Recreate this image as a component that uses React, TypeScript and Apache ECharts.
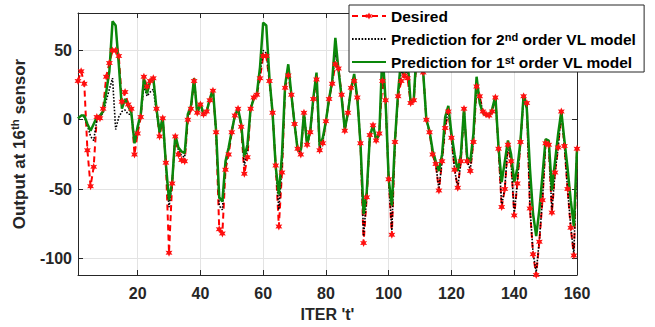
import React, { useEffect, useRef } from 'react';
import * as echarts from 'echarts';

const iterations: number[] = Array.from({ length: 160 }, (_, i) => i + 1);

const desired: number[] = [
  28, 35, 26, -22, -48, -34, 2, 1, 8, 31,
  41, 50, 50, 46, 13, 20, 11, 8, -25, -10,
  2, 31, 24, 28, 30, 8, -12, 1, -31, -96,
  -46, -12, -25, -29, -30, 0, 8, 28, 5, 11,
  4, 6, 14, 21, -9, -79, -82, -36, -25, -9,
  3, 8, -5, -39, -27, 8, 16, 18, 30, 46,
  46, 28, 5, -33, -77, -38, 23, 32, 18, -3,
  -21, -25, 5, -18, -9, 15, 29, -22, -17, -1,
  15, 26, 40, 37, 18, -8, 5, 23, 28, 16,
  -17, -89, -56, -11, -4, -15, -10, 28, 14, -43,
  -83, -16, 17, 28, 32, 30, 12, 14, 48, 45,
  34, 0, -9, -25, -32, -51, -30, -6, 6, -13,
  -36, -49, -30, 8, -30, -37, -16, 24, 17, 6,
  4, 3, 6, 16, -21, -63, -50, -18, -30, -69,
  -46, -16, 17, 12, -64, -97, -112, -88, -58, -17,
  -18, -67, -38, -20, 6, -19, -50, -78, -98, -21,
];

const pred2nd: number[] = [
  1, 3, 2, -4, -12, -15, 0, 2, 5, 14,
  22, 30, -7, 2, 6, 7, 4, 4, -15, -6,
  3, 24, 17, 20, 22, 6, -9, 2, -32, -63,
  -46, -11, -22, -26, -27, 2, 9, 29, 5, 11,
  4, 6, 15, 21, -8, -62, -65, -33, -22, -8,
  3, 8, -4, -33, -22, 8, 16, 18, 33, 50,
  48, 29, 5, -33, -65, -33, 24, 36, 18, -3,
  -21, -24, 5, -18, -9, 15, 31, -21, -16, -1,
  15, 27, 48, 37, 17, -8, 5, 23, 30, 16,
  -17, -84, -55, -11, -4, -15, -10, 40, 14, -43,
  -80, -16, 18, 35, 32, 36, 12, 14, 50, 46,
  34, 0, -9, -24, -32, -50, -30, -5, 7, -13,
  -36, -49, -30, 8, -30, -36, -15, 25, 16, 6,
  4, 3, 6, 16, -21, -62, -49, -18, -30, -68,
  -45, -16, 17, 12, -63, -96, -110, -87, -57, -17,
  -18, -66, -38, -20, 6, -19, -50, -77, -97, -21,
];

const pred1st: number[] = [
  1, 3, 3, -3, -8, -3, 2, 3, 6, 20,
  35, 71, 68, 40, 8, 15, 10, 5, -17, -5,
  4, 30, 19, 28, 30, 8, -9, 2, -32, -58,
  -45, -11, -20, -23, -24, 4, 10, 30, 4, 12,
  4, 6, 15, 22, -8, -56, -59, -30, -20, -8,
  3, 8, -3, -27, -18, 8, 15, 19, 38, 70,
  68, 30, 5, -34, -54, -25, 25, 40, 18, -3,
  -22, -22, 5, -18, -8, 16, 34, -19, -13, -1,
  15, 28, 59, 36, 16, -7, 5, 22, 33, 16,
  -17, -68, -52, -12, -4, -14, -11, 50, 14, -43,
  -62, -15, 20, 45, 33, 44, 12, 15, 55, 48,
  34, 0, -8, -22, -30, -37, -25, 2, 10, -10,
  -25, -37, -25, 8, -27, -30, -10, 31, 12, 5,
  3, 3, 8, 17, -20, -45, -30, -15, -25, -45,
  -35, -15, 18, 8, -35, -68, -84, -65, -40, -14,
  -15, -51, -30, -10, 6, -15, -35, -58, -77, -21,
];

const xTicks: number[] = [20, 40, 60, 80, 100, 120, 140, 160];
const yTicks: number[] = [-100, -50, 0, 50];

const seriesNames = [
  'Desired',
  'Prediction for 2nd order VL model',
  'Prediction for 1st order VL model',
];
const legendLabels: Record<string, string> = {
  'Desired': 'Desired',
  'Prediction for 2nd order VL model': 'Prediction for 2{sup|nd} order VL model',
  'Prediction for 1st order VL model': 'Prediction for 1{sup|st} order VL model',
};

const FONT = "'Liberation Sans', Arial, Helvetica, sans-serif";
const AXIS_COLOR = '#262626';
const GRID_COLOR = '#e3e3e3';
const STAR =
  'path://M0,-1L0.25,-0.433L0.866,-0.5L0.5,0L0.866,0.5L0.25,0.433L0,1L-0.25,0.433L-0.866,0.5L-0.5,0L-0.866,-0.5L-0.25,-0.433Z';

const pairs = (ys: number[]) => ys.map((v, i) => [iterations[i], v]);

export default function App() {
  const ref = useRef<HTMLDivElement>(null);

  useEffect(() => {
    if (!ref.current) return;
    const chart = echarts.init(ref.current, undefined, { renderer: 'svg' });
    const axisLabelStyle = {
      fontSize: 16,
      fontWeight: 'bold' as const,
      color: AXIS_COLOR,
      fontFamily: FONT,
    };
    chart.setOption({
      animation: false,
      backgroundColor: '#ffffff',
      grid: { left: 78, top: 13, width: 499, height: 266, containLabel: false },
      legend: {
        orient: 'vertical',
        left: 349,
        top: 5,
        z: 20,
        zlevel: 0,
        data: seriesNames,
        formatter: (name: string) => legendLabels[name] || name,
        backgroundColor: '#ffffff',
        borderColor: AXIS_COLOR,
        borderWidth: 1,
        borderRadius: 0,
        padding: [3, 8, 2, 2],
        itemWidth: 34,
        itemHeight: 9,
        itemGap: 7,
        itemTextGap: 3,
        textStyle: {
          fontSize: 15.5,
          fontWeight: 'bold',
          color: '#000000',
          fontFamily: FONT,
          lineHeight: 16,
          rich: {
            sup: {
              fontSize: 11,
              fontWeight: 'bold',
              color: '#000000',
              fontFamily: FONT,
              verticalAlign: 'top',
              lineHeight: 11,
            },
          },
        },
      },
      xAxis: [
        {
          type: 'value',
          min: 1,
          max: 160,
          position: 'bottom',
          axisLine: { show: true, onZero: false, lineStyle: { color: AXIS_COLOR, width: 1 } },
          axisTick: { show: true, inside: true, length: 5, customValues: xTicks, lineStyle: { color: AXIS_COLOR } },
          axisLabel: { show: true, customValues: xTicks, margin: 10, ...axisLabelStyle },
          splitLine: { show: true, lineStyle: { color: GRID_COLOR, width: 1 } },
          name: "ITER 't'",
          nameLocation: 'middle',
          nameGap: 31,
          nameTextStyle: { fontSize: 16, fontWeight: 'bold', color: AXIS_COLOR, fontFamily: FONT },
        },
        {
          type: 'value',
          min: 1,
          max: 160,
          position: 'top',
          axisLine: { show: true, onZero: false, lineStyle: { color: AXIS_COLOR, width: 1 } },
          axisTick: { show: true, inside: true, length: 5, customValues: xTicks, lineStyle: { color: AXIS_COLOR } },
          axisLabel: { show: false },
          splitLine: { show: false },
        },
      ],
      yAxis: [
        {
          type: 'value',
          min: -112,
          max: 77,
          position: 'left',
          axisLine: { show: true, onZero: false, lineStyle: { color: AXIS_COLOR, width: 1 } },
          axisTick: { show: true, inside: true, length: 5, customValues: yTicks, lineStyle: { color: AXIS_COLOR } },
          axisLabel: { show: true, customValues: yTicks, margin: 6, ...axisLabelStyle },
          splitLine: { show: true, lineStyle: { color: GRID_COLOR, width: 1 } },
          name: 'Output at 16{sup|th} sensor',
          nameLocation: 'middle',
          nameGap: 46,
          nameTextStyle: {
            fontSize: 17,
            fontWeight: 'bold',
            color: AXIS_COLOR,
            fontFamily: FONT,
            lineHeight: 20,
            rich: {
              sup: {
                fontSize: 11.5,
                fontWeight: 'bold',
                color: AXIS_COLOR,
                fontFamily: FONT,
                verticalAlign: 'top',
                lineHeight: 11,
              },
            },
          },
        },
        {
          type: 'value',
          min: -112,
          max: 77,
          position: 'right',
          axisLine: { show: true, onZero: false, lineStyle: { color: AXIS_COLOR, width: 1 } },
          axisTick: { show: true, inside: true, length: 5, customValues: yTicks, lineStyle: { color: AXIS_COLOR } },
          axisLabel: { show: false },
          splitLine: { show: false },
        },
      ],
      series: [
        {
          name: seriesNames[0],
          type: 'line',
          xAxisIndex: 0,
          yAxisIndex: 0,
          data: pairs(desired),
          symbol: STAR,
          symbolSize: 8,
          symbolKeepAspect: true,
          showSymbol: true,
          lineStyle: { color: '#ff0000', width: 2, type: [6, 4] },
          itemStyle: { color: '#ff1010' },
          z: 2,
          silent: true,
        },
        {
          name: seriesNames[1],
          type: 'line',
          xAxisIndex: 0,
          yAxisIndex: 0,
          data: pairs(pred2nd),
          symbol: 'circle',
          showSymbol: false,
          lineStyle: { color: '#000000', width: 1.6, type: [1.6, 1.6] },
          itemStyle: { color: 'transparent' },
          z: 2,
          silent: true,
        },
        {
          name: seriesNames[2],
          type: 'line',
          xAxisIndex: 0,
          yAxisIndex: 0,
          data: pairs(pred1st),
          symbol: 'circle',
          showSymbol: false,
          lineStyle: { color: '#0a870a', width: 2.5 },
          itemStyle: { color: 'transparent' },
          z: 2,
          silent: true,
        },
      ],
    });
    return () => chart.dispose();
  }, []);

  return (
    <div
      ref={ref}
      style={{ position: 'absolute', left: 0, top: 0, width: 655, height: 327 }}
    />
  );
}
